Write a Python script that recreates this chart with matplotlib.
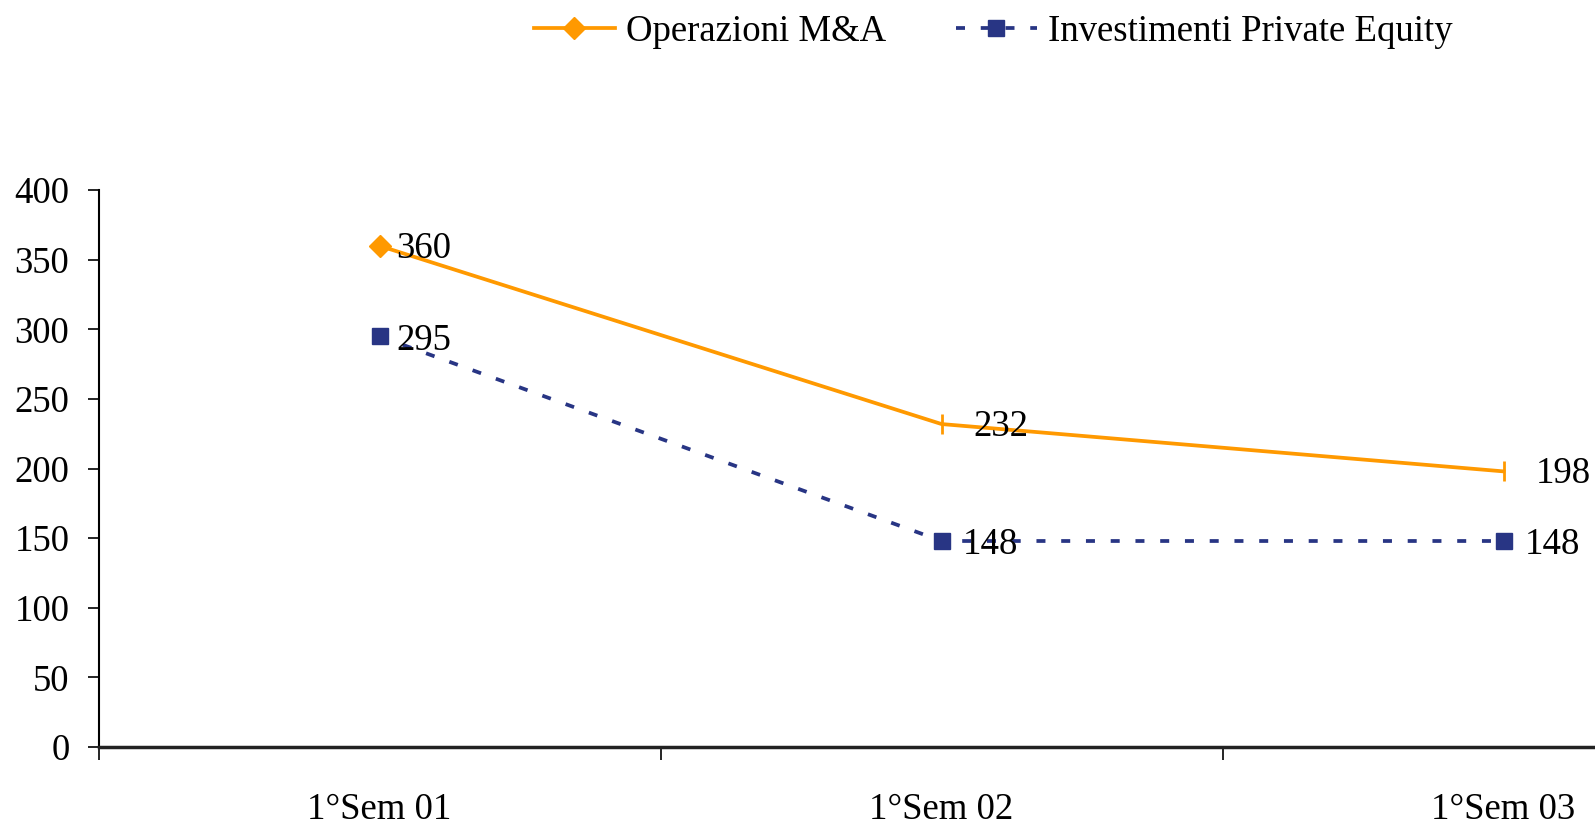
import matplotlib
matplotlib.use("Agg")
import matplotlib.pyplot as plt
from matplotlib.lines import Line2D

categories = ["1°Sem 01", "1°Sem 02", "1°Sem 03"]
ma_values = [360, 232, 198]
pe_values = [295, 148, 148]
ma_label = "Operazioni M&A"
pe_label = "Investimenti Private Equity"
yticks = [0, 50, 100, 150, 200, 250, 300, 350, 400]

orange = "#FF9900"
navy = "#283584"
fs = 26.5
plt.rcParams["font.family"] = ["Liberation Serif", "DejaVu Serif"]

fig = plt.figure(figsize=(15.95, 8.25), dpi=100)
ax = fig.add_axes([0.0618, 0.0945, 1.057, 0.675])

x = list(range(len(categories)))
dash = (0, (2.4, 4.2))

# M&A line: diamond on first point, tick markers on the others
ax.plot(x, ma_values, color=orange, lw=2.7, zorder=3)
ax.plot(x[:1], ma_values[:1], ls="none", marker="D", ms=11, color=orange, zorder=4)
ax.plot(x[1:], ma_values[1:], ls="none", marker="|", ms=14, mew=2, color=orange, zorder=4)

# Private equity line
ax.plot(x, pe_values, color=navy, lw=2.7, ls=dash, marker="s", ms=12, zorder=3)

# data labels
ma_off = [12, 23, 23]
pe_off = [12, 15, 15]
for xi, v, o in zip(x, ma_values, ma_off):
    ax.annotate(str(v), (xi, v), xytext=(o, -2),
                textcoords="offset points", ha="left", va="center", fontsize=fs)
for xi, v, o in zip(x, pe_values, pe_off):
    ax.annotate(str(v), (xi, v), xytext=(o, -3),
                textcoords="offset points", ha="left", va="center", fontsize=fs)

ax.set_xlim(-0.5, len(categories) - 0.5)
ax.set_ylim(0, 400)
ax.set_yticks(yticks)
ax.set_yticklabels([str(t) for t in yticks], fontsize=fs)
ax.set_xticks(x)
ax.set_xticklabels(categories, fontsize=fs)
ax.tick_params(axis="x", length=0, pad=33)
ax.set_xticks([i + 0.5 for i in range(-1, len(categories))], minor=True)
ax.tick_params(axis="x", which="minor", length=9, width=1.2, direction="out")
ax.tick_params(axis="y", length=8, width=1.2, direction="out", pad=13)

for s in ["top", "right"]:
    ax.spines[s].set_visible(False)
ax.spines["left"].set_linewidth(1.5)
ax.spines["bottom"].set_linewidth(2.5)
ax.spines["bottom"].set_color("#222222")

handles = [
    Line2D([], [], color=orange, lw=2.7, marker="D", ms=11),
    Line2D([], [], color=navy, lw=2.7, ls=dash, marker="s", ms=12),
]
fig.legend(handles, [ma_label, pe_label], loc="center", bbox_to_anchor=(0.6227, 0.962),
           ncol=2, frameon=False, fontsize=fs, handlelength=2.2, columnspacing=1.9,
           handletextpad=0.3)

fig.savefig("out.png", dpi=100)
